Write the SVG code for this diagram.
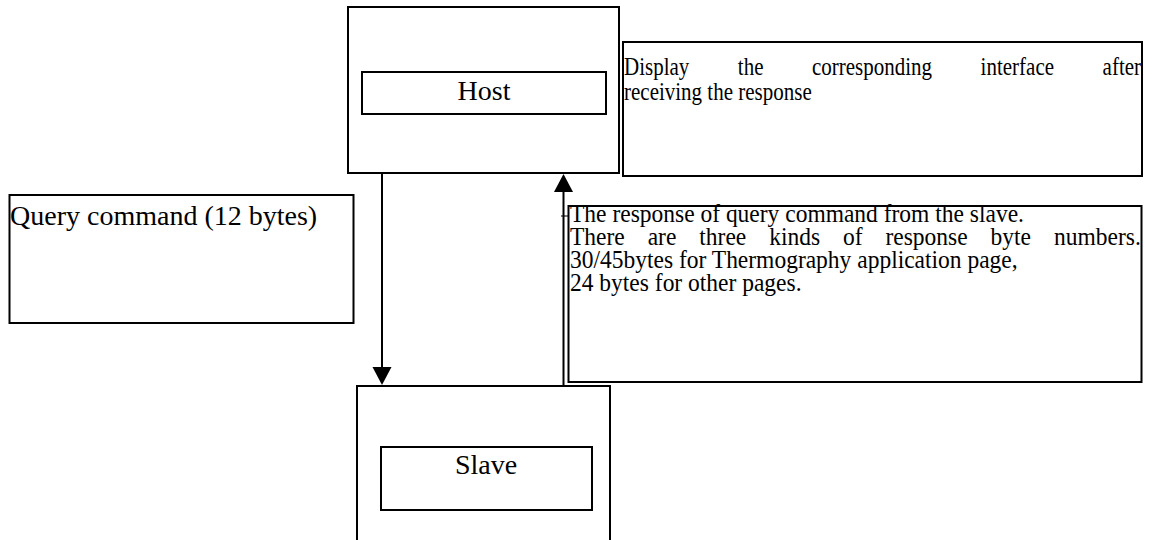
<svg xmlns="http://www.w3.org/2000/svg" width="1153" height="540" viewBox="0 0 1153 540">
  <style>
    .box { fill: #ffffff; stroke: #000000; stroke-width: 2; }
    .inner { fill: #ffffff; stroke: #000000; stroke-width: 2; }
    .txt { font-family: "Liberation Serif", "Times New Roman", serif; font-size: 28px; fill: #000000; }
    .note { font-family: "Liberation Serif", "Times New Roman", serif; font-size: 26px; fill: #000000; }
    .mid { text-anchor: middle; }
    .conn { fill: none; stroke: #000000; stroke-width: 2; }
  </style>
  <defs>
    <marker id="arrow" markerUnits="userSpaceOnUse" markerWidth="19" markerHeight="20" refX="13" refY="9.5" orient="auto" viewBox="0 0 19 20">
      <path d="M0,0 L18,9.5 L0,19 Z" fill="#000000"/>
    </marker>
  </defs>
  <rect width="1153" height="540" fill="#ffffff"/>

  <g id="host">
    <rect class="box" x="348" y="7" width="271" height="166"/>
    <rect class="inner" x="362" y="72" width="244" height="42"/>
    <text class="txt mid" x="484" y="100">Host</text>
  </g>

  <g id="display-note">
    <rect class="box" x="623" y="42" width="519" height="134"/>
    <g transform="translate(624 0) scale(0.808 1)">
      <text class="note"><tspan x="0" y="75">Display</tspan><tspan x="140.84" y="75">the</tspan><tspan x="232.67" y="75">corresponding</tspan><tspan x="441.34" y="75">interface</tspan><tspan x="592.33" y="75">after</tspan><tspan x="0" y="100">receiving the response</tspan></text>
    </g>
  </g>

  <g id="query-note">
    <rect class="box" x="9.5" y="195" width="344" height="128"/>
    <text class="txt" x="10" y="225">Query command (12 bytes)</text>
  </g>

  <g id="response-note">
    <rect class="box" x="568.5" y="206" width="573" height="176"/>
    <g transform="translate(570 0) scale(0.904 1)">
      <text class="note"><tspan x="0" y="222">The response of query command from the slave.</tspan><tspan x="0" y="245">There</tspan><tspan x="85.95" y="245">are</tspan><tspan x="143.03" y="245">three</tspan><tspan x="220.35" y="245">kinds</tspan><tspan x="302" y="245">of</tspan><tspan x="349" y="245">response</tspan><tspan x="465.27" y="245">byte</tspan><tspan x="535.4" y="245">numbers.</tspan><tspan x="0" y="268">30/45bytes for Thermography application page,</tspan><tspan x="0" y="291">24 bytes for other pages.</tspan></text>
    </g>
  </g>

  <g id="slave">
    <rect class="box" x="357" y="386" width="253" height="170"/>
    <rect class="inner" x="381" y="447" width="211" height="63"/>
    <text class="txt mid" x="486" y="474">Slave</text>
  </g>

  <g id="connectors">
    <line class="conn" x1="382" y1="173" x2="382" y2="380" marker-end="url(#arrow)"/>
    <line class="conn" x1="563.5" y1="386" x2="563.5" y2="179" marker-end="url(#arrow)"/>
    <line x1="561" y1="216" x2="568" y2="216" stroke="#000000" stroke-width="1"/>
  </g>
</svg>
